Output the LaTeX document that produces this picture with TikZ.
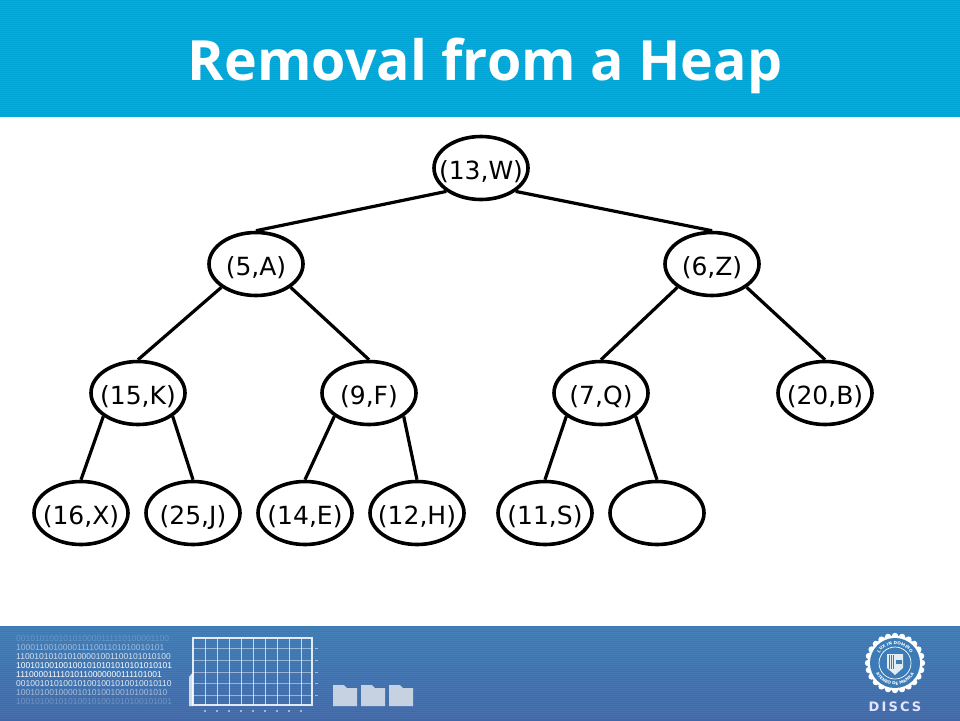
\documentclass[tikz,border=0pt]{standalone}
\usepackage{fontspec}
\setmainfont{DejaVu Sans}
\newfontfamily\titlefont{Open Sans}
\newfontfamily\digitfont{Liberation Sans}
\usetikzlibrary{shapes.geometric,decorations.text}
\definecolor{titleblue}{HTML}{00A5D6}
\definecolor{foottop}{HTML}{3C7BB6}
\definecolor{footbot}{HTML}{3F68A8}
\definecolor{folder}{HTML}{C6D2E2}
\newcommand{\hlabel}[1]{\makebox[0pt]{\raisebox{-11.5pt}[0pt][0pt]{#1}}}
\tikzset{
 heapnode/.style={ellipse,draw=black,line width=3.6pt,fill=white,minimum width=94pt,minimum height=63pt,inner sep=0pt,font=\fontsize{25}{25}\selectfont,text=black},
 edge/.style={draw=black,line width=3.2pt},
 titletext/.style={font=\titlefont\fontsize{55.5}{55.5}\selectfont\bfseries,text=white,anchor=base},
 digitrow/.style={font=\digitfont\fontsize{8.5}{8.5}\selectfont,text=white,anchor=base west,inner sep=0pt},
 gridline/.style={draw=white,line width=.8pt,opacity=.7},
 sealtext/.style={decorate,decoration={text along path,text align=center,text={#1}}},
}
\begin{document}
\begin{tikzpicture}[x=1pt,y=-1pt]
\useasboundingbox (0,0) rectangle (960,720);
\fill[white] (0,0) rectangle (960,720);
% bands
\fill[titleblue] (0,0) rectangle (960,117);
\foreach \y in {1,3,...,115} \draw[white,opacity=.05,line width=.7pt] (0,\y) -- (960,\y);
\shade[top color=foottop,bottom color=footbot] (0,626) rectangle (960,720);
\foreach \y in {628,630,...,718} \draw[white,opacity=.05,line width=.7pt] (0,\y) -- (960,\y);
\node[titletext] (title) at (485,80) {Removal from a Heap};
% binary text
\node[digitrow,opacity=.2] (d1) at (16,641) {001010100101010000111110100001100};
\node[digitrow,opacity=.5] (d2) at (16,650) {10001100100001111001101010010101};
\node[digitrow,opacity=.8] (d3) at (16,659) {110010101010100001001100101010100};
\node[digitrow] (d4) at (16,668) {100101001001001010101010101010101};
\node[digitrow] (d5) at (16,677) {11100001111010110000000111101001};
\node[digitrow,opacity=.85] (d6) at (16,686) {001001010100101001001010010010110};
\node[digitrow,opacity=.55] (d7) at (16,695) {10010100100001010100100101001010};
\node[digitrow,opacity=.25] (d8) at (16,704) {100101001010100101001010100101001};
% chart
\fill[white,opacity=.75] (189,706) -- (189,677) -- (193,672) -- (193,706) -- cycle;
\foreach \x in {205,217,...,301} \draw[gridline] (\x,638) -- (\x,705);
\foreach \y in {648,660,672,683,695} \draw[gridline,opacity=.45] (193,\y) -- (312,\y);
\draw[white,opacity=.85,line width=1.2pt] (193,638) rectangle (312,705);
\foreach \y in {648,660,672,683,695} \fill[white,opacity=.5] (315,\y-.5) rectangle (318,\y+.5);
\foreach \x in {205,217,...,301} \fill[white,opacity=.5] (\x-.7,710) rectangle (\x+.7,712);
% folders
\foreach \x in {333,361,389}
 \fill[folder] (\x,706) -- (\x,685) -- (\x+11,685) -- (\x+14,688) -- (\x+24,688) -- (\x+24,706) -- cycle;
% seal
\begin{scope}[shift={(895,663)},x=1pt,y=1pt]
\foreach \a in {0,15,...,345} \fill[white] (\a:27) circle (3.2pt);
\fill[white] (0,0) circle (27.5pt);
\fill[foottop] (0,0) circle (25pt);
\draw[white,line width=.7pt] (0,0) circle (16pt);
\path[sealtext={|\fontsize{4.2}{4.2}\selectfont\bfseries\color{white}|LUX IN DOMINO}] (160:18.5) arc[start angle=160,end angle=20,radius=18.5];
\path[sealtext={|\fontsize{4.2}{4.2}\selectfont\bfseries\color{white}|ATENEO DE MANILA}] (200:22) arc[start angle=200,end angle=340,radius=22];
\fill[white,opacity=.85] (-8,9) -- (8,9) -- (8,-5) -- (0,-12) -- (-8,-5) -- cycle;
\foreach \x in {-6,-4,...,-2} \draw[foottop,line width=.5pt] (\x,8) -- (\x,-6);
\fill[foottop] (1,3) rectangle (7,-1);
\end{scope}
\node[font=\fontsize{13}{13}\selectfont\bfseries,text=white!90!blue,anchor=base] (discs) at (895,711) {D\,I\,S\,C\,S};
% heap nodes
\node[heapnode] (n13) at (481,168) {\hlabel{(13,W)}};
\node[heapnode] (n5) at (256,264) {\hlabel{(5,A)}};
\node[heapnode] (n6) at (712,264) {\hlabel{(6,Z)}};
\node[heapnode] (n15) at (138,393) {\hlabel{(15,K)}};
\node[heapnode] (n9) at (369,393) {\hlabel{(9,F)}};
\node[heapnode] (n7) at (601,393) {\hlabel{(7,Q)}};
\node[heapnode] (n20) at (825,393) {\hlabel{(20,B)}};
\node[heapnode] (n16) at (81,513) {\hlabel{(16,X)}};
\node[heapnode] (n25) at (193,513) {\hlabel{(25,J)}};
\node[heapnode] (n14) at (305,513) {\hlabel{(14,E)}};
\node[heapnode] (n12) at (417,513) {\hlabel{(12,H)}};
\node[heapnode] (n11) at (545,513) {\hlabel{(11,S)}};
\node[heapnode] (nb) at (657,513) {};
% edges
\foreach \p/\c in {n13/n5,n5/n15,n6/n7,n15/n16,n9/n14,n7/n11}
 \draw[edge] (\p.214) -- (\c.north);
\foreach \p/\c in {n13/n6,n5/n9,n6/n20,n15/n25,n9/n12,n7/nb}
 \draw[edge] (\p.326) -- (\c.north);
\end{tikzpicture}
\end{document}
